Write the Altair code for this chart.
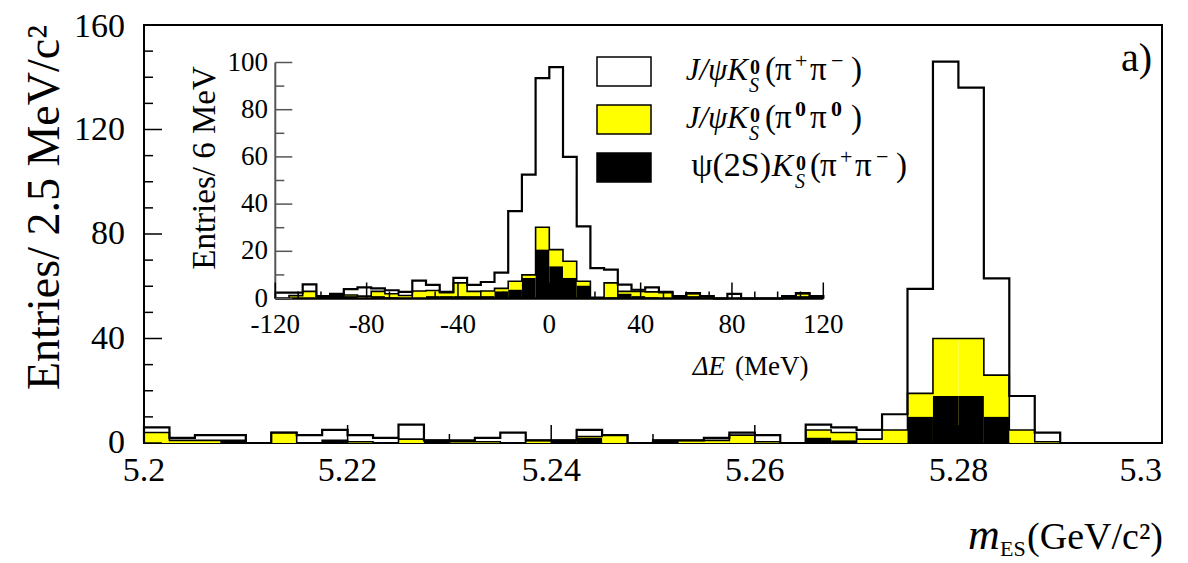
import altair as alt
import pandas as pd

FONT = "Liberation Serif"
W, H = 1018, 418

# ---------------- data ----------------
# main histogram: m_ES, 40 bins of 2.5 MeV/c^2 from 5.200 to 5.300 GeV/c^2
M_LO, M_STEP = 5.2, 0.0025
main_pipi = [2, 1, 2, 2, 0, 0, 3, 4, 2.5, 2, 5.5, 0, 0.5, 1.5, 4, 0, 0, 2.5, 0, 0,
             0, 0, 1, 1, 2.5, 0, 2, 2, 3.5, 6, 40, 106, 96, 37, 13, 3.5, 0, 0, 0, 0]
main_pi0 = [4, 1, 1, 0, 0, 4, 0, 0, 0.5, 0, 1.5, 0, 0.5, 0.5, 0, 1, 0, 0.5, 3, 0,
            0, 1, 1, 3, 0.5, 0, 3, 3, 1.5, 5, 9, 22, 22, 16, 5, 0.5, 0, 0, 0, 0]
main_psi2s = [0, 0, 0, 1, 0, 0, 0, 1, 0, 0, 0, 1, 0, 0, 0, 0, 1, 2, 0, 0,
              1, 0, 0, 0, 0, 0, 2, 1, 0, 0, 10, 18, 18, 10, 0, 0, 0, 0, 0, 0]

# inset histogram: Delta E, 40 bins of 6 MeV from -120 to 120 MeV
D_LO, D_STEP = -120, 6
dE_pipi = [2.5, 1.3, 3, 0, 0.5, 2.5, 3.7, 1.3, 1.5, 1.5, 4.4, 2.4, 0.3, 2.1, 2.8, 3.8, 6.7, 29.7, 42.5, 63.2,
           77.3, 44.2, 23.3, 12.4, 5.6, 2.9, 0.7, 1.9, 0.3, 0, 0.3, 0, 0, 2, 0, 0, 0, 0, 0.3, 0]
dE_pi0 = [0, 1.2, 3, 0, 0, 0.5, 1, 2, 1.5, 1.3, 3.2, 2.4, 1.5, 5.6, 2, 2.2, 1.3, 3.6, 1.3, 9.5,
          7.1, 7.1, 1.9, 0, 6.1, 1, 2, 2.3, 2.5, 0, 1, 0.5, 0, 0, 0, 0, 0, 0, 1, 0]
dE_psi2s = [0, 0, 0, 1, 1.5, 1, 0, 1, 0.5, 0, 0, 1, 1, 1, 1, 1, 3, 3.7, 8.7, 20.7,
            13.6, 8.7, 5.4, 0.5, 0.5, 2, 1, 0.5, 0, 1, 1, 0.5, 0, 0, 0, 0, 0, 1, 1, 1]

main_xticks_major = [5.2, 5.22, 5.24, 5.26, 5.28, 5.3]
main_xtick_labels = ["5.2", "5.22", "5.24", "5.26", "5.28", "5.3"]
main_xticks_minor = [5.21, 5.23, 5.25, 5.27, 5.29]
main_yticks_major = [0, 40, 80, 120, 160]
main_ytick_labels = ["0", "40", "80", "120", "160"]
main_yticks_minor = [10, 20, 30, 50, 60, 70, 90, 100, 110, 130, 140, 150]

inset_xticks_major = [-120, -80, -40, 0, 40, 80, 120]
inset_xtick_labels = ["-120", "-80", "-40", "0", "40", "80", "120"]
inset_xticks_minor = [-110, -100, -90, -70, -60, -50, -30, -20, -10,
                      10, 20, 30, 50, 60, 70, 90, 100, 110]
inset_yticks_major = [0, 20, 40, 60, 80, 100]
inset_ytick_labels = ["0", "20", "40", "60", "80", "100"]
inset_yticks_minor = [10, 30, 50, 70, 90]


# ---------------- helpers ----------------
def bars_df(lo, step, a, b, c):
    rows = []
    for i, (p, q, r) in enumerate(zip(a, b, c)):
        x0 = lo + i * step
        rows.append({"x0": x0, "x1": x0 + step, "zero": 0,
                     "black": r, "ycum": r + q, "total": r + q + p})
    return pd.DataFrame(rows)


def steps_df(bars, col):
    xs = [bars.x0.iloc[0]] + list(bars.x0) + [bars.x1.iloc[-1], bars.x1.iloc[-1]]
    ys = [0] + list(bars[col]) + [bars[col].iloc[-1], 0]
    return pd.DataFrame({"x": xs, "y": ys, "i": list(range(len(xs)))})


one = pd.DataFrame({"a": [0]})


def label(txt, x, y, size, align="left", baseline="alphabetic",
          style="normal", weight="normal", angle=0):
    return alt.Chart(one).mark_text(
        text=txt, font=FONT, fontSize=size, align=align, baseline=baseline,
        fontStyle=style, fontWeight=weight, angle=angle, color="black"
    ).encode(x=alt.value(x), y=alt.value(y))


def box(x, x2, y, y2, fill):
    return alt.Chart(one).mark_rect(fill=fill, stroke="black", strokeWidth=1.5).encode(
        x=alt.value(x), x2=alt.value(x2), y=alt.value(y), y2=alt.value(y2))


def step_line(bars, col, xs, ys, width):
    return alt.Chart(steps_df(bars, col)).mark_line(
        interpolate="step-after", color="black", strokeWidth=width).encode(
        x=alt.X("x:Q", scale=xs, axis=None), y=alt.Y("y:Q", scale=ys, axis=None),
        order="i:Q")


def hist_layers(bars, xs, ys):
    yel = alt.Chart(bars).mark_rect(fill="#ffff00", strokeWidth=0).encode(
        x=alt.X("x0:Q", scale=xs, axis=None), x2="x1:Q",
        y=alt.Y("ycum:Q", scale=ys, axis=None), y2="zero:Q")
    blk = alt.Chart(bars).mark_rect(fill="black", strokeWidth=0).encode(
        x=alt.X("x0:Q", scale=xs, axis=None), x2="x1:Q",
        y=alt.Y("black:Q", scale=ys, axis=None), y2="zero:Q")
    return [yel, blk, step_line(bars, "ycum", xs, ys, 1.6), step_line(bars, "total", xs, ys, 2.2)]


def xticks(vals, xs, base, length):
    return alt.Chart(pd.DataFrame({"v": vals})).mark_rule(color="black", strokeWidth=1.5).encode(
        x=alt.X("v:Q", scale=xs, axis=None), y=alt.value(base), y2=alt.value(base - length))


def yticks(vals, ys, base, length, color="black"):
    return alt.Chart(pd.DataFrame({"v": vals})).mark_rule(color=color, strokeWidth=1.5).encode(
        y=alt.Y("v:Q", scale=ys, axis=None), x=alt.value(base), x2=alt.value(base + length))


def xlabels(vals, texts, xs, ypix, size, align="center"):
    return alt.Chart(pd.DataFrame({"v": vals, "t": texts})).mark_text(
        font=FONT, fontSize=size, align=align, baseline="middle", color="black").encode(
        x=alt.X("v:Q", scale=xs, axis=None), y=alt.value(ypix), text="t:N")


def ylabels(vals, texts, ys, xpix, size, dy=0):
    return alt.Chart(pd.DataFrame({"v": vals, "t": texts})).mark_text(
        font=FONT, fontSize=size, align="right", baseline="middle", color="black", dy=dy).encode(
        y=alt.Y("v:Q", scale=ys, axis=None), x=alt.value(xpix), text="t:N")


# ---------------- main panel ----------------
mxs = alt.Scale(domain=[5.2, 5.3], nice=False, zero=False)
mys = alt.Scale(domain=[0, 160], nice=False)
mb = bars_df(M_LO, M_STEP, main_pipi, main_pi0, main_psi2s)

main = alt.layer(
    *hist_layers(mb, mxs, mys),
    xticks(main_xticks_major, mxs, H, 18), xticks(main_xticks_minor, mxs, H, 9),
    yticks(main_yticks_major, mys, 0, 18), yticks(main_yticks_minor, mys, 0, 9),
    xlabels(main_xticks_major[:-1], main_xtick_labels[:-1], mxs, H + 28, 34),
    xlabels(main_xticks_major[-1:], main_xtick_labels[-1:], mxs, H + 28, 34, align="right"),
    ylabels(main_yticks_major[:-1], main_ytick_labels[:-1], mys, -19, 34),
    ylabels(main_yticks_major[-1:], main_ytick_labels[-1:], mys, -19, 34, dy=2),
)

# ---------------- inset panel ----------------
IX0, IX1, IY0, IY1 = 131.3, 679.3, 273.5, 37.5
ixs = alt.Scale(domain=[-120, 120], range=[IX0, IX1], nice=False, zero=False)
iys = alt.Scale(domain=[0, 100], range=[IY0, IY1], nice=False)
ib = bars_df(D_LO, D_STEP, dE_pipi, dE_pi0, dE_psi2s)

in_axes_x = alt.Chart(pd.DataFrame({"a": [-120], "b": [120], "y": [0]})).mark_rule(
    color="black", strokeWidth=2.5).encode(
    x=alt.X("a:Q", scale=ixs, axis=None), x2="b:Q", y=alt.Y("y:Q", scale=iys, axis=None))
in_axes_y = alt.Chart(pd.DataFrame({"x": [-120], "a": [0], "b": [100]})).mark_rule(
    color="#555555", strokeWidth=2).encode(
    x=alt.X("x:Q", scale=ixs, axis=None), y=alt.Y("a:Q", scale=iys, axis=None), y2="b:Q")

inset = alt.layer(
    *hist_layers(ib, ixs, iys),
    in_axes_x, in_axes_y,
    xticks(inset_xticks_major, ixs, IY0, 16), xticks(inset_xticks_minor, ixs, IY0, 7),
    yticks(inset_yticks_major, iys, IX0, 17, "#555555"), yticks(inset_yticks_minor, iys, IX0, 9, "#555555"),
    xlabels(inset_xticks_major, inset_xtick_labels, ixs, 300, 27),
    ylabels(inset_yticks_major, inset_ytick_labels, iys, 124, 27),
)


# ---------------- legend & titles ----------------
def pion_pair(x, base, sup1, sup2, bold):
    w = "bold" if bold else "normal"
    return [
        label("(", x, base, 33),
        label("π", x + 10, base, 33),
        label(sup1, x + 30, base - 12, 22, weight=w),
        label("π", x + 45, base, 33),
        label(sup2, x + 66, base - 12, 22, weight=w),
        label(")", x + 86, base, 33),
    ]


def ks(x, base):
    return [label("S", x, base + 12, 20, style="italic"),
            label("0", x + 1, base - 6, 20, weight="bold")]


legend = (
    [box(453, 507, 32, 61, "white"),
     box(453, 507, 80, 109, "#ffff00"),
     box(453, 507, 128, 157, "black")]
    + [label("J/ψK", 604, 55, 31, align="right", style="italic")] + ks(605, 55)
    + pion_pair(621, 55, "+", "−", False)
    + [label("J/ψK", 604, 103, 31, align="right", style="italic")] + ks(605, 103)
    + pion_pair(621, 103, "0", "0", True)
    + [label("ψ(2S)", 627, 151, 34, align="right"),
       label("K", 649, 151, 32, align="right", style="italic")] + ks(651, 151)
    + pion_pair(666, 151, "+", "−", False)
)

titles = [
    label("a)", 1008, 46, 40, align="right"),
    label("Entries/ 2.5 MeV/c²", -99, 0, 46, align="right", baseline="middle", angle=270),
    label("m", 824, 524, 44, style="italic"),
    label("ES", 856, 531, 22),
    label("(GeV/c²)", 1019, 524, 38, align="right"),
    label("Entries/ 6 MeV", 61, 143, 33, align="center", baseline="middle", angle=270),
    label("ΔE", 581, 350, 27, align="right", style="italic"),
    label("(MeV)", 591, 350, 27),
]

chart = alt.layer(main, inset, *legend, *titles).resolve_scale(
    x="independent", y="independent"
).properties(
    width=W, height=H,
    padding={"left": 136, "top": 17, "right": 18, "bottom": 119},
    autosize=alt.AutoSizeParams(type="none"),
    background="white",
).configure_view(stroke="black", strokeWidth=2)

chart.save("out.html", embed_options={"renderer": "svg", "actions": False})
